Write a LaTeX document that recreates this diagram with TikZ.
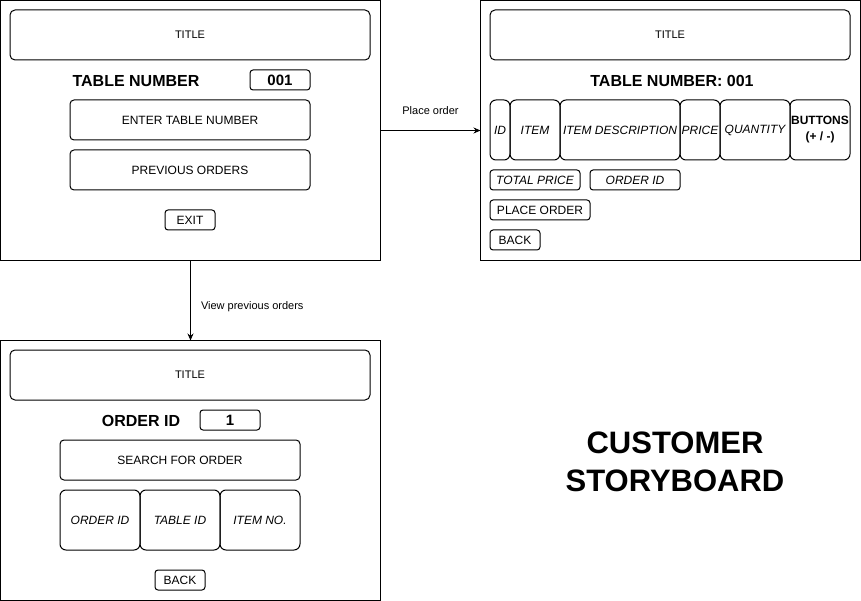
\documentclass[tikz,border=0pt]{standalone}
\usepackage{fontspec}
\setmainfont{Liberation Sans}
\usetikzlibrary{positioning, arrows.meta}

\begin{document}
\begin{tikzpicture}[x=1pt, y=-1pt,
  screen/.style={draw, line width=1pt, minimum width=380pt, minimum height=260pt,
                 inner sep=0pt, outer sep=0pt},
  titlebar/.style={draw, line width=1pt, rounded corners=5pt, minimum width=360pt, minimum height=50pt,
                   outer sep=0pt, font=\fontsize{11}{13}\selectfont},
  heading/.style={inner sep=0pt, font=\fontsize{16}{19}\selectfont\bfseries},
  field/.style={draw, line width=1pt, rounded corners=3pt, minimum width=60pt, minimum height=20pt,
                inner sep=0pt, outer sep=0pt, font=\fontsize{15}{18}\selectfont\bfseries},
  btn/.style={draw, line width=1pt, rounded corners=4pt, minimum width=240pt, minimum height=40pt,
              inner sep=0pt, outer sep=0pt, font=\fontsize{12}{14}\selectfont},
  smallbtn/.style={draw, line width=1pt, rounded corners=3pt, minimum height=20pt,
                   inner sep=0pt, outer sep=0pt, font=\fontsize{12}{14}\selectfont},
  cell/.style={draw, line width=1pt, rounded corners=6pt, minimum height=60pt, align=center,
               inner sep=0pt, outer sep=0pt, font=\fontsize{12}{14}\selectfont\itshape},
  infobox/.style={draw, line width=1pt, rounded corners=3pt, minimum width=90pt, minimum height=20pt,
                  inner sep=0pt, outer sep=0pt, font=\fontsize{12}{14}\selectfont\itshape},
  arr/.style={-{Stealth[length=7pt, width=6pt]}, line width=1pt},
  lbl/.style={font=\fontsize{11}{13}\selectfont, inner sep=0pt},
]
\useasboundingbox (0,0) rectangle (861,601);

% ---------- Screens ----------
\node[screen] (home) at (190.5,130.5) {};
\node[screen] (order) at (670.5,130.5) {};
\node[screen] (history) at (190.5,470.5) {};

% ---------- Home screen ----------
\node[titlebar] (homeTitle) at (190,35) {TITLE};
\node[heading] (homeLbl) at (136,81) {TABLE NUMBER};
\node[field] (homeNum) at (280,80) {001};
\node[btn] (homeEnter) at (190,120) {ENTER TABLE NUMBER};
\node[btn, below=10pt of homeEnter] (homePrev) {PREVIOUS ORDERS};
\node[smallbtn, minimum width=50pt] (homeExit) at (190,220) {EXIT};

% ---------- Order screen ----------
\node[titlebar] (orderTitle) at (670,35) {TITLE};
\node[heading] (orderLbl) at (672,81) {TABLE NUMBER: 001};
\node[cell, minimum width=20pt] (colId) at (500,130) {ID};
\node[cell, minimum width=50pt, right=0pt of colId] (colItem) {ITEM};
\node[cell, minimum width=120pt, right=0pt of colItem] (colDesc) {ITEM DESCRIPTION};
\node[cell, minimum width=40pt, right=0pt of colDesc] (colPrice) {PRICE};
\node[cell, minimum width=70pt, right=0pt of colPrice] (colQty) {QUANTITY};
\node[cell, minimum width=60pt, right=0pt of colQty, font=\fontsize{12}{15}\selectfont\bfseries]
  (colBtns) {BUTTONS\\[1pt](+ / -)};
\node[infobox] (orderTotal) at (535,180) {TOTAL PRICE};
\node[infobox, right=10pt of orderTotal] (orderId) {ORDER ID};
\node[smallbtn, minimum width=100pt] (orderPlace) at (540,210) {PLACE ORDER};
\node[smallbtn, minimum width=50pt] (orderBack) at (515,240) {BACK};

% ---------- Previous orders screen ----------
\node[titlebar] (histTitle) at (190,375) {TITLE};
\node[heading] (histLbl) at (141,421) {ORDER ID};
\node[field] (histNum) at (230,420) {1};
\node[btn] (histSearch) at (180,460) {SEARCH FOR ORDER};
\node[cell, minimum width=80pt] (histOrder) at (100,520) {ORDER ID};
\node[cell, minimum width=80pt, right=0pt of histOrder] (histTable) {TABLE ID};
\node[cell, minimum width=80pt, right=0pt of histTable] (histItem) {ITEM NO.};
\node[smallbtn, minimum width=50pt] (histBack) at (180,580) {BACK};

% ---------- Transitions ----------
\draw[arr] (home.east) -- node[lbl, midway, above=15pt] {Place order} (order.west);
\draw[arr] (home.south) -- node[lbl, midway, right=10pt, yshift=-6pt] {View previous orders} (history.north);

% ---------- Caption ----------
\node[align=center, font=\fontsize{31}{38}\selectfont\bfseries] (caption) at (675,462)
  {CUSTOMER\\STORYBOARD};

\end{tikzpicture}
\end{document}
